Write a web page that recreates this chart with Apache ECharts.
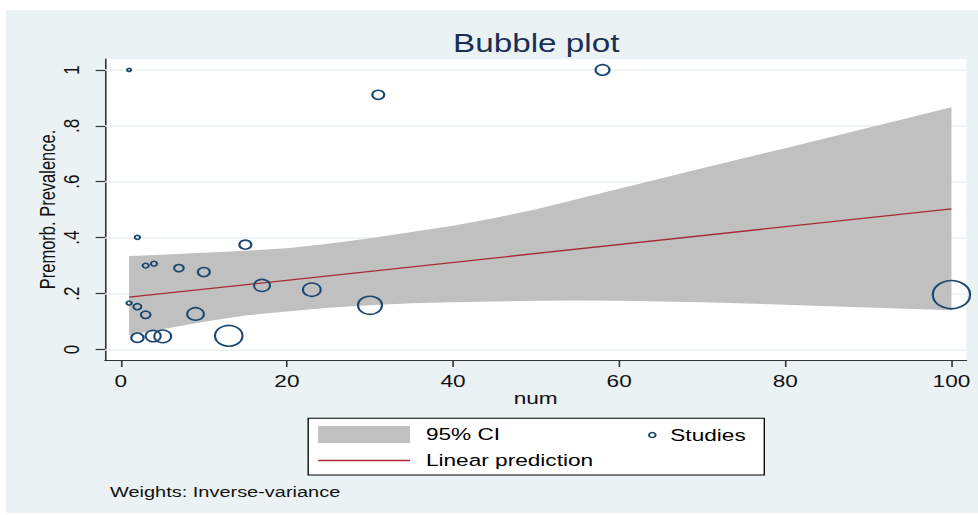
<!DOCTYPE html>
<html><head><meta charset="utf-8">
<script src="https://cdn.jsdelivr.net/npm/echarts@6/dist/echarts.min.js"></script>
<style>
html,body{margin:0;padding:0;background:#fff;overflow:hidden;width:978px;height:515px;}
#chart{width:735px;height:515px;transform:scaleX(1.3306);transform-origin:0 0;}
</style></head><body><div id="chart"></div>
<script>
// Studies (bubbles)
const studyX = [1, 31, 58, 2, 15, 3, 4, 7, 10, 17, 1, 2, 3, 9, 2, 3.9, 5.05, 13, 23, 30, 100];
const studyY = [1.0, 0.911, 1.0, 0.401, 0.375, 0.300, 0.307, 0.291, 0.277, 0.229, 0.166, 0.153, 0.124, 0.127, 0.042, 0.048, 0.047, 0.049, 0.214, 0.158, 0.196];
const studyWeight = [0.9, 8.1, 11, 1.6, 8.1, 2.2, 2.2, 5.3, 8.1, 14.4, 1.6, 3.6, 5.3, 15.6, 8.6, 12.8, 16.1, 42.8, 17.7, 32.4, 78.4];
// Linear prediction
const fitX = [1, 100];
const fitY = [0.187, 0.503];
// 95% CI band
const ciX     = [1, 5, 10, 15, 20, 25, 30, 35, 40, 45, 50, 55, 60, 70, 80, 90, 100];
const ciLower = [0.052, 0.072, 0.099, 0.122, 0.136, 0.149, 0.158, 0.165, 0.169, 0.172, 0.174, 0.175, 0.174, 0.169, 0.160, 0.150, 0.140];
const ciUpper = [0.334, 0.339, 0.346, 0.353, 0.362, 0.378, 0.398, 0.420, 0.443, 0.470, 0.502, 0.538, 0.575, 0.648, 0.720, 0.793, 0.866];
// Ticks
const xTicks = [0, 20, 40, 60, 80, 100];
const yTicks = [0, 0.2, 0.4, 0.6, 0.8, 1];
const yTickLabels = ['0', '.2', '.4', '.6', '.8', '1'];

const NAVY = '#1a476f', MAROON = '#a52a35', GRAYCI = '#c0c0c0', PANEL = '#eaf2f3';
const FONT = 'Liberation Sans';

const chart = echarts.init(document.getElementById('chart'), null, {renderer: 'svg'});
chart.setOption({
  animation: false,
  textStyle: {fontFamily: FONT},
  title: {
    text: 'Bubble plot', left: 403, top: 31, textAlign: 'center', padding: 0,
    textStyle: {fontSize: 25, fontWeight: 'normal', color: '#1c2e54', fontFamily: FONT}
  },
  grid: {left: 78.9, right: 8.7, top: 59, bottom: 155, show: true, backgroundColor: '#fff', borderWidth: 0, containLabel: false, outerBoundsMode: 'none'},
  xAxis: {
    type: 'value', min: -1.9, max: 101.8,
    axisLine: {show: true, onZero: false, lineStyle: {color: '#333', width: 1.2}},
    axisTick: {show: true, customValues: xTicks, length: 7, lineStyle: {color: '#333', width: 1.2}},
    axisLabel: {customValues: xTicks, fontSize: 17, color: '#111', margin: 13, fontFamily: FONT},
    splitLine: {show: false},
    name: 'num', nameLocation: 'middle', nameGap: 30, nameMoveOverlap: false,
    nameTextStyle: {fontSize: 17, color: '#111', fontFamily: FONT}
  },
  yAxis: {
    type: 'value', min: -0.0376, max: 1.039,
    axisLine: {show: true, onZero: false, lineStyle: {color: '#333', width: 1.2}},
    axisTick: {show: true, customValues: yTicks, length: 7, lineStyle: {color: '#333', width: 1.2}},
    axisLabel: {
      customValues: yTicks, rotate: 90, fontSize: 17, color: '#111', margin: 17, fontFamily: FONT,
      formatter: function (v) {
        const i = yTicks.findIndex(t => Math.abs(t - v) < 1e-9);
        return i >= 0 ? yTickLabels[i] : '';
      }
    },
    splitLine: {show: false},
    name: 'Premorb. Prevalence.', nameLocation: 'middle', nameGap: 35, nameMoveOverlap: false,
    nameTextStyle: {fontSize: 16.5, color: '#111', fontFamily: FONT}
  },
  legend: [
    {data: [{name: '95% CI', icon: 'rect', itemStyle: {color: GRAYCI, borderWidth: 0}}],
     left: 239.1, top: 426, itemWidth: 69, itemHeight: 17, padding: 0, selectedMode: false,
     textStyle: {fontSize: 17, color: '#000', fontFamily: FONT, padding: [0, 0, 0, 7]}},
    {data: [{name: 'Studies', icon: 'circle', itemStyle: {color: 'rgba(0,0,0,0)', borderColor: NAVY, borderWidth: 1.5}}],
     left: 487, top: 426.5, itemWidth: 5, itemHeight: 5, padding: 0, selectedMode: false,
     textStyle: {fontSize: 17, color: '#000', fontFamily: FONT, padding: [0, 0, 0, 6]}},
    {data: [{name: 'Linear prediction', icon: 'rect', itemStyle: {color: MAROON, borderWidth: 0}}],
     left: 239.1, top: 452, itemWidth: 69, itemHeight: 1.5, padding: 0, selectedMode: false,
     textStyle: {fontSize: 17, color: '#000', fontFamily: FONT, padding: [0, 0, 0, 7]}}
  ],
  graphic: [
    {type: 'rect', z: -100, silent: true, shape: {x: 4.5, y: 10, width: 730.5, height: 503}, style: {fill: PANEL}},
    {type: 'rect', z: 1, silent: true, shape: {x: 231.6, y: 418.3, width: 342.8, height: 56.7}, style: {fill: '#fff', stroke: '#000', lineWidth: 1}},
    {type: 'text', left: 82.7, top: 484, silent: true, style: {text: 'Weights: Inverse-variance', fontSize: 15, fill: '#111', fontFamily: FONT}}
  ],
  series: [
    {
      type: 'custom', name: '95% CI', z: 2, silent: true,
      data: [[ciX[0], ciLower[0]]],
      encode: {x: 0, y: 1},
      itemStyle: {color: GRAYCI},
      renderItem: function (params, api) {
        const pts = [];
        for (let i = 0; i < ciX.length; i++) pts.push(api.coord([ciX[i], ciUpper[i]]));
        for (let i = ciX.length - 1; i >= 0; i--) pts.push(api.coord([ciX[i], ciLower[i]]));
        return {type: 'polygon', shape: {points: pts}, style: {fill: GRAYCI}};
      }
    },
    {
      type: 'line', name: 'Linear prediction', z: 3, silent: true,
      data: fitX.map((x, i) => [x, fitY[i]]),
      symbol: 'none', showSymbol: false,
      lineStyle: {color: MAROON, width: 1.3}, itemStyle: {color: MAROON}
    },
    {
      type: 'scatter', name: 'Studies', z: 4, silent: true,
      data: studyX.map((x, i) => [x, studyY[i], studyWeight[i]]),
      symbol: 'circle',
      symbolSize: function (v) { return Math.sqrt(v[2] * 10); },
      itemStyle: {color: 'rgba(0,0,0,0)', borderColor: NAVY, borderWidth: 1.6, opacity: 1},
      markLine: {
        silent: true, symbol: 'none', z: 1, animation: false,
        label: {show: false},
        lineStyle: {color: PANEL, width: 1.5, type: 'solid'},
        data: yTicks.map(v => ({yAxis: v}))
      }
    }
  ]
});
</script></body></html>
